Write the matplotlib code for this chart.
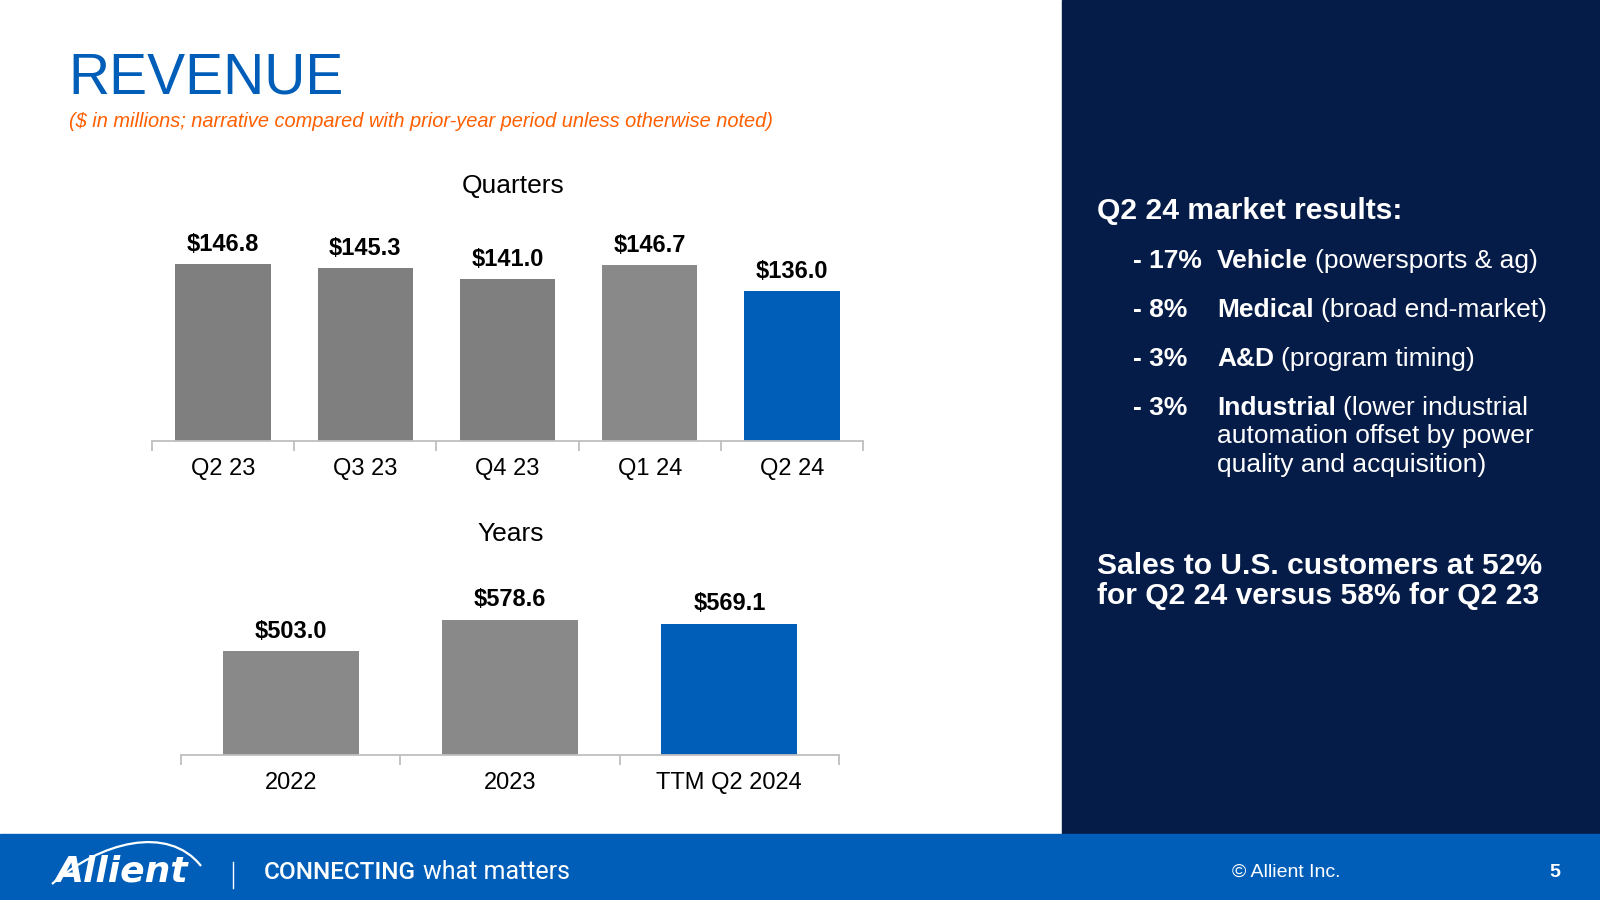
import matplotlib
matplotlib.use('Agg')
import matplotlib.pyplot as plt
import numpy as np
from matplotlib.patches import Rectangle, PathPatch
from matplotlib.path import Path

# data
quarters = ['Q2 23', 'Q3 23', 'Q4 23', 'Q1 24', 'Q2 24']
quarter_rev = [146.8, 145.3, 141.0, 146.7, 136.0]
quarter_colors = ['#7f7f7f', '#7f7f7f', '#7f7f7f', '#898989', '#005eb8']

years = ['2022', '2023', 'TTM Q2 2024']
year_rev = [503.0, 578.6, 569.1]
year_colors = ['#898989', '#898989', '#005eb8']

market_changes = ['- 17%', '- 8%', '- 3%', '- 3%']
markets = ['Vehicle', 'Medical', 'A&D', 'Industrial']
market_notes = [['(powersports & ag)'],
                ['(broad end-market)'],
                ['(program timing)'],
                ['(lower industrial', 'automation offset by power', 'quality and acquisition)']]

NAVY = '#061c48'
BLUE = '#005eb8'
ORANGE = '#ff5f00'

plt.rcParams['font.family'] = ['Liberation Sans', 'DejaVu Sans']

fig = plt.figure(figsize=(16, 9), dpi=100)

# background layer in pixel coordinates (y down)
bg = fig.add_axes([0, 0, 1, 1], zorder=0)
bg.set_xlim(0, 1600)
bg.set_ylim(900, 0)
bg.axis('off')
bg.add_patch(Rectangle((1062, 0), 538, 834, color=NAVY))
bg.add_patch(Rectangle((0, 834), 1600, 66, color=BLUE))


def px_rect(left, top, right, bottom):
    return [left / 1600, 1 - bottom / 900, (right - left) / 1600, (bottom - top) / 900]


def bar_panel(rect, labels, values, colors, ylim, width, label_off):
    ax = fig.add_axes(rect, zorder=1)
    ax.patch.set_alpha(0)
    x = np.arange(len(labels))
    ax.bar(x, values, width=width, color=colors)
    ax.set_xlim(-0.5, len(labels) - 0.5)
    ax.set_ylim(*ylim)
    for s in ['top', 'right', 'left']:
        ax.spines[s].set_visible(False)
    ax.spines['bottom'].set_color('#bfbfbf')
    ax.spines['bottom'].set_linewidth(1.3)
    ax.set_yticks([])
    # boundary ticks, labels sit on minor ticks at bar centres
    ax.set_xticks(np.arange(len(labels) + 1) - 0.5)
    ax.set_xticklabels([])
    ax.tick_params(axis='x', which='major', length=7, width=1.3, color='#bfbfbf')
    ax.set_xticks(x, minor=True)
    ax.set_xticklabels(labels, minor=True, fontsize=17)
    ax.tick_params(axis='x', which='minor', length=0, pad=12.5)
    for xi, v in zip(x, values):
        ax.annotate(f'${v:.1f}', (xi, v), xytext=(0, label_off), textcoords='offset points',
                    ha='center', va='center', fontsize=17, fontweight='bold')
    return ax


bar_panel(px_rect(152, 200, 863, 441), quarters, quarter_rev, quarter_colors, (75, 173), 0.67, 14)
bar_panel(px_rect(181, 611, 839, 755), years, year_rev, year_colors, (255, 600), 0.62, 14.5)

bg.text(513, 186, 'Quarters', ha='center', va='center', fontsize=19)
bg.text(511, 534, 'Years', ha='center', va='center', fontsize=19)

# title block
bg.text(68, 93, 'REVENUE', color=BLUE, fontsize=41, va='baseline')
bg.text(69, 127, '($ in millions; narrative compared with prior-year period unless otherwise noted)',
        color=ORANGE, fontsize=14.4, style='italic', va='baseline')

# right panel
bg.text(1097, 219, 'Q2 24 market results:', color='white', fontsize=21.6, fontweight='bold', va='baseline')
row_y = [268, 317, 366, 415]
for y, chg, mkt, notes in zip(row_y, market_changes, markets, market_notes):
    bg.text(1133, y, chg, color='white', fontsize=19, fontweight='bold', va='baseline')
    name = bg.text(1217, y, mkt, color='white', fontsize=19, fontweight='bold', va='baseline')
    bg.annotate(notes[0], xy=(1, 0), xycoords=name, xytext=(5, 0), textcoords='offset points',
                color='white', fontsize=19, va='bottom', ha='left')
    for k, line in enumerate(notes[1:]):
        bg.text(1217, y + 28.5 * (k + 1), line, color='white', fontsize=19, va='baseline')

bg.text(1097, 574, 'Sales to U.S. customers at 52%', color='white', fontsize=21.6, fontweight='bold', va='baseline')
bg.text(1097, 604, 'for Q2 24 versus 58% for Q2 23', color='white', fontsize=21.6, fontweight='bold', va='baseline')

# footer
swoosh = Path([(52, 884), (100, 842), (168, 824), (201, 866)],
              [Path.MOVETO, Path.CURVE4, Path.CURVE4, Path.CURVE4])
bg.add_patch(PathPatch(swoosh, fill=False, edgecolor='white', lw=1.6))
bg.text(55, 882, 'Allient', color='white', fontsize=26, fontweight='heavy', style='italic',
        family=['DejaVu Sans'], va='baseline')
bg.plot([233, 233], [862, 888], color='white', lw=1)
conn = bg.text(264, 879, 'CONNECTING', color='white', fontsize=17.5, fontweight='medium',
               family=['Liberation Sans Narrow', 'Roboto', 'DejaVu Sans'], va='baseline')
bg.annotate('what matters', xy=(1, 0), xycoords=conn, xytext=(5, 0), textcoords='offset points',
            color='white', fontsize=18, family=['Roboto', 'DejaVu Sans'],
            va='bottom', ha='left')
bg.text(1232, 877, '\u00a9 Allient Inc.', color='white', fontsize=14, va='baseline')
bg.text(1555, 877, '5', color='white', fontsize=14, fontweight='bold', ha='center', va='baseline')

fig.savefig('out.png', dpi=100)
